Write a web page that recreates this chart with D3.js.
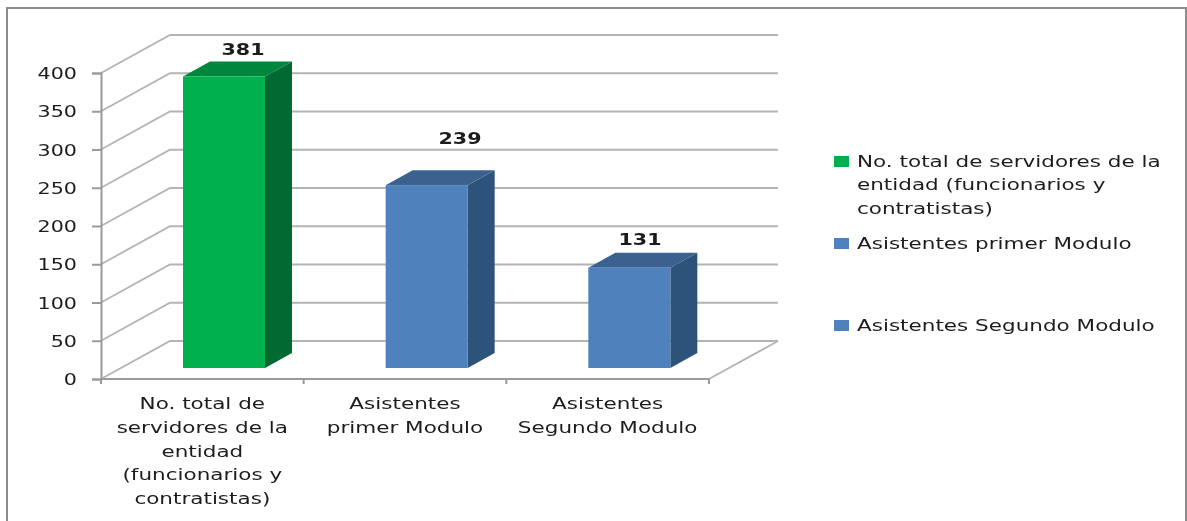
<!DOCTYPE html>
<html>
<head>
<meta charset="utf-8">
<script src="https://cdn.jsdelivr.net/npm/d3@7"></script>
<style>
  html, body { margin: 0; padding: 0; background: #fff; overflow: hidden; }
  text { font-family: "DejaVu Sans", sans-serif; font-size: 16px; fill: #1c1c1c; }
</style>
</head>
<body>
<svg id="chart" width="1187" height="521"></svg>
<script>
const categories = ["No. total de servidores de la entidad (funcionarios y contratistas)", "Asistentes primer Modulo", "Asistentes Segundo Modulo"];
const values = [381, 239, 131];
const yTicks = [0, 50, 100, 150, 200, 250, 300, 350, 400];
const categoryLines = [
  ["No. total de", "servidores de la", "entidad", "(funcionarios y", "contratistas)"],
  ["Asistentes", "primer Modulo"],
  ["Asistentes", "Segundo Modulo"],
];
const legendLines = [
  ["No. total de servidores de la", "entidad (funcionarios y", "contratistas)"],
  ["Asistentes primer Modulo"],
  ["Asistentes Segundo Modulo"],
];

// the picture is stretched sideways, so text gets the same stretch
const wordStretch = 1.345, digitStretch = 1.29;
const depthX = 69, depthY = 38;
const barInsetX = 82, barW = 82, barLift = 11, barDepthX = 27, barDepthY = 15;
const colors = [
  { front: "#00b050", side: "#006b30", top: "#00873c" },
  { front: "#4f81bd", side: "#2f527a", top: "#3a628f" },
  { front: "#4f81bd", side: "#2f527a", top: "#3a628f" },
];
const labelPos = [{ dx: 243, y: 55 }, { dx: 460, y: 144 }, { dx: 640, y: 245 }];
const legendRows = [167, 249, 331];

const svg = d3.select("#chart");
const defs = svg.append("defs");
defs.append("filter").attr("id", "soft")
  .attr("x", "-5%").attr("y", "-5%").attr("width", "110%").attr("height", "110%")
  .append("feGaussianBlur").attr("stdDeviation", 0.65);

const root = svg.append("g").attr("filter", "url(#soft)");

const x = d3.scaleBand().domain(categories).range([101, 709]);
const y = d3.scaleLinear().domain([0, 400]).range([379, 73]);

function putText(g, str, px, py, anchor, stretch, weight) {
  return g.append("text")
    .attr("transform", "translate(" + px + "," + py + ") scale(" + stretch + ",1)")
    .attr("text-anchor", anchor)
    .attr("font-weight", weight || null)
    .text(str);
}

// frame
root.append("path")
  .attr("d", "M7,521V8H1186V521")
  .attr("fill", "none")
  .attr("stroke", "#8c8c8c")
  .attr("stroke-width", 2);

// gridlines, going back along the side wall
root.append("g").selectAll("path")
  .data(yTicks)
  .enter()
  .append("path")
  .attr("d", function (d) {
    return d3.line()([[x.range()[0], y(d)], [x.range()[0] + depthX, y(d) - depthY], [x.range()[1] + depthX, y(d) - depthY]]);
  })
  .attr("fill", "none")
  .attr("stroke", "#b4b4b4")
  .attr("stroke-width", 1.8);

// floor edge on the right
root.append("path")
  .attr("d", d3.line()([[x.range()[1], y(0)], [x.range()[1] + depthX, y(0) - depthY]]))
  .attr("fill", "none")
  .attr("stroke", "#b4b4b4")
  .attr("stroke-width", 1.8);

// y axis
const yAxis = root.append("g")
  .attr("transform", "translate(" + x.range()[0] + ",0)")
  .call(d3.axisLeft(y).tickValues(yTicks).tickSize(9).tickPadding(0).tickFormat(() => ""));
yAxis.selectAll("path, line").attr("stroke", "#9a9a9a").attr("stroke-width", 2);
yTicks.forEach(function (t) {
  putText(root, String(t), 77, y(t) + 6, "end", digitStretch);
});

// x axis
const xAxisLine = root.append("g");
xAxisLine.append("line")
  .attr("x1", x.range()[0]).attr("x2", x.range()[1])
  .attr("y1", y(0)).attr("y2", y(0))
  .attr("stroke", "#9a9a9a").attr("stroke-width", 2);
xAxisLine.selectAll("line.tick")
  .data(categories.concat([null]))
  .enter()
  .append("line")
  .attr("class", "tick")
  .attr("x1", (d) => (d === null ? x.range()[1] : x(d)))
  .attr("x2", (d) => (d === null ? x.range()[1] : x(d)))
  .attr("y1", y(0)).attr("y2", y(0) + 5)
  .attr("stroke", "#9a9a9a").attr("stroke-width", 2);

// bars
const bars = root.append("g").selectAll("g")
  .data(categories)
  .enter()
  .append("g");

function barBox(c, i) {
  const left = x(c) + barInsetX;
  const bottom = y(0) - barLift;
  const top = bottom - (y(0) - y(values[i]));
  return { left, right: left + barW, bottom, top };
}

bars.append("path")
  .attr("fill", (c, i) => colors[i].side)
  .attr("d", function (c, i) {
    const b = barBox(c, i);
    return d3.line()([[b.right, b.top], [b.right + barDepthX, b.top - barDepthY], [b.right + barDepthX, b.bottom - barDepthY], [b.right, b.bottom]]) + "Z";
  });
bars.append("path")
  .attr("fill", (c, i) => colors[i].top)
  .attr("d", function (c, i) {
    const b = barBox(c, i);
    return d3.line()([[b.left, b.top], [b.left + barDepthX, b.top - barDepthY], [b.right + barDepthX, b.top - barDepthY], [b.right, b.top]]) + "Z";
  });
bars.append("rect")
  .attr("fill", (c, i) => colors[i].front)
  .attr("x", (c, i) => barBox(c, i).left)
  .attr("y", (c, i) => barBox(c, i).top)
  .attr("width", barW)
  .attr("height", (c, i) => barBox(c, i).bottom - barBox(c, i).top);

// value labels
values.forEach(function (v, i) {
  putText(root, String(v), labelPos[i].dx, labelPos[i].y, "middle", digitStretch, "bold");
});

// category labels
categoryLines.forEach(function (lines, i) {
  const cx = x(categories[i]) + x.bandwidth() / 2;
  lines.forEach(function (line, j) {
    putText(root, line, cx, 409 + j * 23.8, "middle", wordStretch);
  });
});

// legend
legendLines.forEach(function (lines, i) {
  root.append("rect")
    .attr("x", 834).attr("y", legendRows[i] - 11)
    .attr("width", 15).attr("height", 11)
    .attr("fill", colors[i].front);
  lines.forEach(function (line, j) {
    putText(root, line, 857, legendRows[i] + j * 23.3, "start", wordStretch);
  });
});
</script>
</body>
</html>
